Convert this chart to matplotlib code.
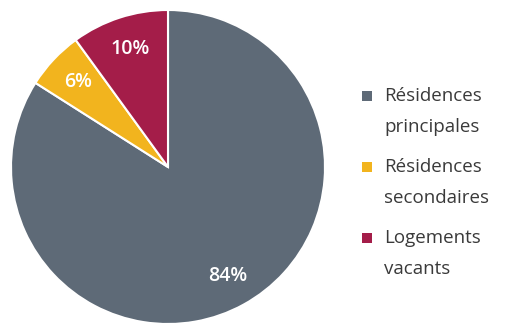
import matplotlib.pyplot as plt
from matplotlib.patches import Rectangle

labels = ["Résidences\nprincipales", "Résidences\nsecondaires", "Logements\nvacants"]
values = [84, 6, 10]
colors = ["#5e6a77", "#f2b41e", "#a41d49"]

W, H = 508, 323
fig = plt.figure(figsize=(W / 100, H / 100), dpi=100)
fig.patch.set_facecolor("white")

# pie area in pixels: center ~ (168, 167), radius ~157
cx, cy, r = 168, 167, 157
ax = fig.add_axes([(cx - r) / W, (H - cy - r) / H, 2 * r / W, 2 * r / H])
ax.pie(values, colors=colors, startangle=90, counterclock=False,
       autopct="%d%%", pctdistance=0.79, radius=1.0,
       wedgeprops=dict(edgecolor="white", linewidth=1.5),
       textprops=dict(color="white", fontsize=14, fontweight="semibold",
                      family="Open Sans"))
ax.set_xlim(-1, 1)
ax.set_ylim(-1, 1)
ax.set_aspect("equal")
ax.axis("off")

# legend drawn by hand (pixel positions), one text per line
y0, step, line_gap = 96, 71, 31
for i, (lab, c) in enumerate(zip(labels, colors)):
    y = y0 + i * step
    fig.patches.append(Rectangle((362 / W, 1 - (y + 5) / H), 10 / W, 10 / H,
                                 transform=fig.transFigure, facecolor=c,
                                 edgecolor="none"))
    for j, line in enumerate(lab.split("\n")):
        fig.text(384 / W, 1 - (y + j * line_gap) / H, line, ha="left",
                 va="center", family="Open Sans", fontsize=13.5,
                 color="#3a3a3a")

fig.savefig("out.png", dpi=100)
